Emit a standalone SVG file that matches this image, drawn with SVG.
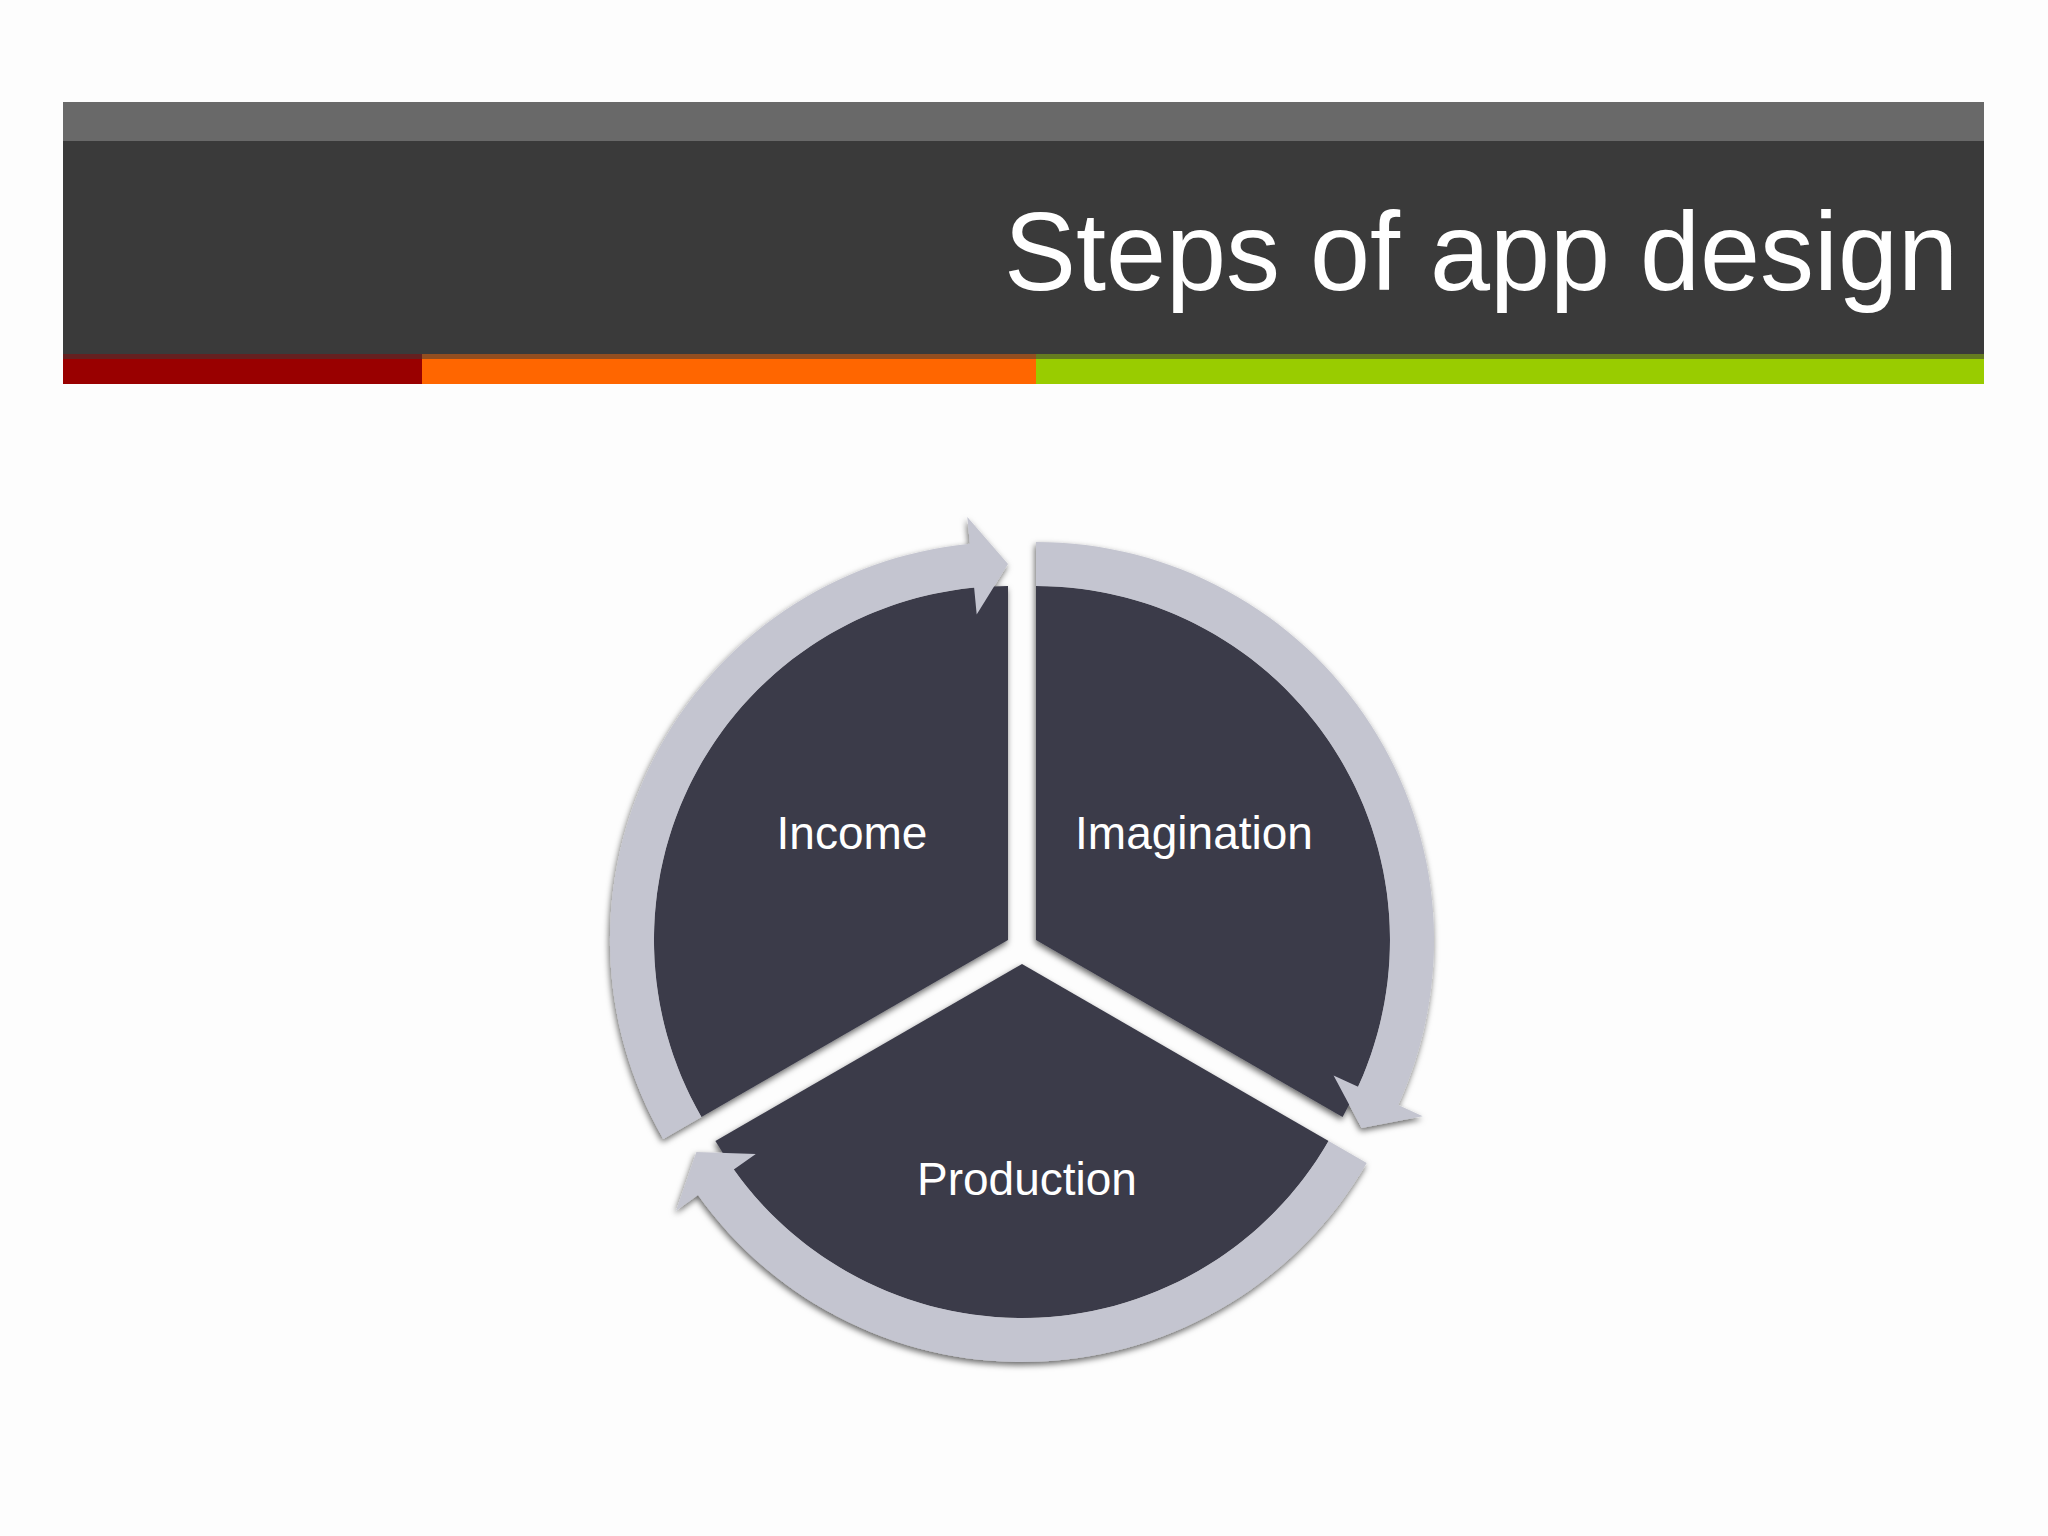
<svg xmlns="http://www.w3.org/2000/svg" width="2048" height="1536" viewBox="0 0 2048 1536">
  <defs>
    <filter id="shadow" x="-10%" y="-10%" width="120%" height="120%">
      <feDropShadow dx="-1" dy="3" stdDeviation="3" flood-color="#000000" flood-opacity="0.6"/>
    </filter>
    <style>
      .wedge { fill: #3a3a49; }
      .ring { fill: #c4c5d0; }
      .label { font-family: "Liberation Sans", Arial, sans-serif; font-size: 46px; fill: #ffffff; text-anchor: middle; }
      .title { font-family: "Liberation Sans", Arial, sans-serif; font-size: 112px; fill: #ffffff; }
    </style>
  </defs>
  <rect x="0" y="0" width="2048" height="1536" fill="#fdfdfd"/>
  <g id="header">
    <rect x="63" y="102" width="1921" height="40" fill="#696969"/>
    <rect x="63" y="141" width="1921" height="213" fill="#3a3a3a"/>
    <rect x="63" y="354" width="359" height="30" fill="#990000"/>
    <rect x="422" y="354" width="614" height="30" fill="#ff6600"/>
    <rect x="1036" y="354" width="948" height="30" fill="#99cc00"/>
    <rect x="63" y="354" width="1921" height="5" fill="#3a3a3a" opacity="0.55"/>
    <text class="title" x="1004" y="290" textLength="954" lengthAdjust="spacingAndGlyphs">Steps of app design</text>
  </g>
  <g id="income" filter="url(#shadow)">
    <path class="wedge" d="M1008,940 L701.4,1117 A354,354 0 0 1 1008,586 Z"/>
    <path class="ring" d="M663.3,1139 A398,398 0 0 1 969.9,543.8 L967.3,517 L1008,564 L976.7,614.5 L974.1,587.6 A354,354 0 0 0 701.4,1117 Z"/>
  </g>
  <g id="imagination" filter="url(#shadow)">
    <path class="wedge" d="M1036,940 L1036,586 A354,354 0 0 1 1342.6,1117 Z"/>
    <path class="ring" d="M1036,542 A398,398 0 0 1 1398.2,1105 L1422.7,1116.2 L1361.6,1128 L1333.6,1075.6 L1358.1,1086.8 A354,354 0 0 0 1036,586 Z"/>
  </g>
  <g id="production" filter="url(#shadow)">
    <path class="wedge" d="M1022,964 L1328.6,1141 A354,354 0 0 1 715.4,1141 Z"/>
    <path class="ring" d="M1366.7,1163 A398,398 0 0 1 698,1195.1 L676,1210.8 L696.4,1152 L755.8,1153.9 L733.8,1169.6 A354,354 0 0 0 1328.6,1141 Z"/>
  </g>
  <g id="labels">
    <text class="label" x="852" y="849">Income</text>
    <text class="label" x="1194" y="849">Imagination</text>
    <text class="label" x="1027" y="1195">Production</text>
  </g>
  <g id="connectors"></g>
</svg>
